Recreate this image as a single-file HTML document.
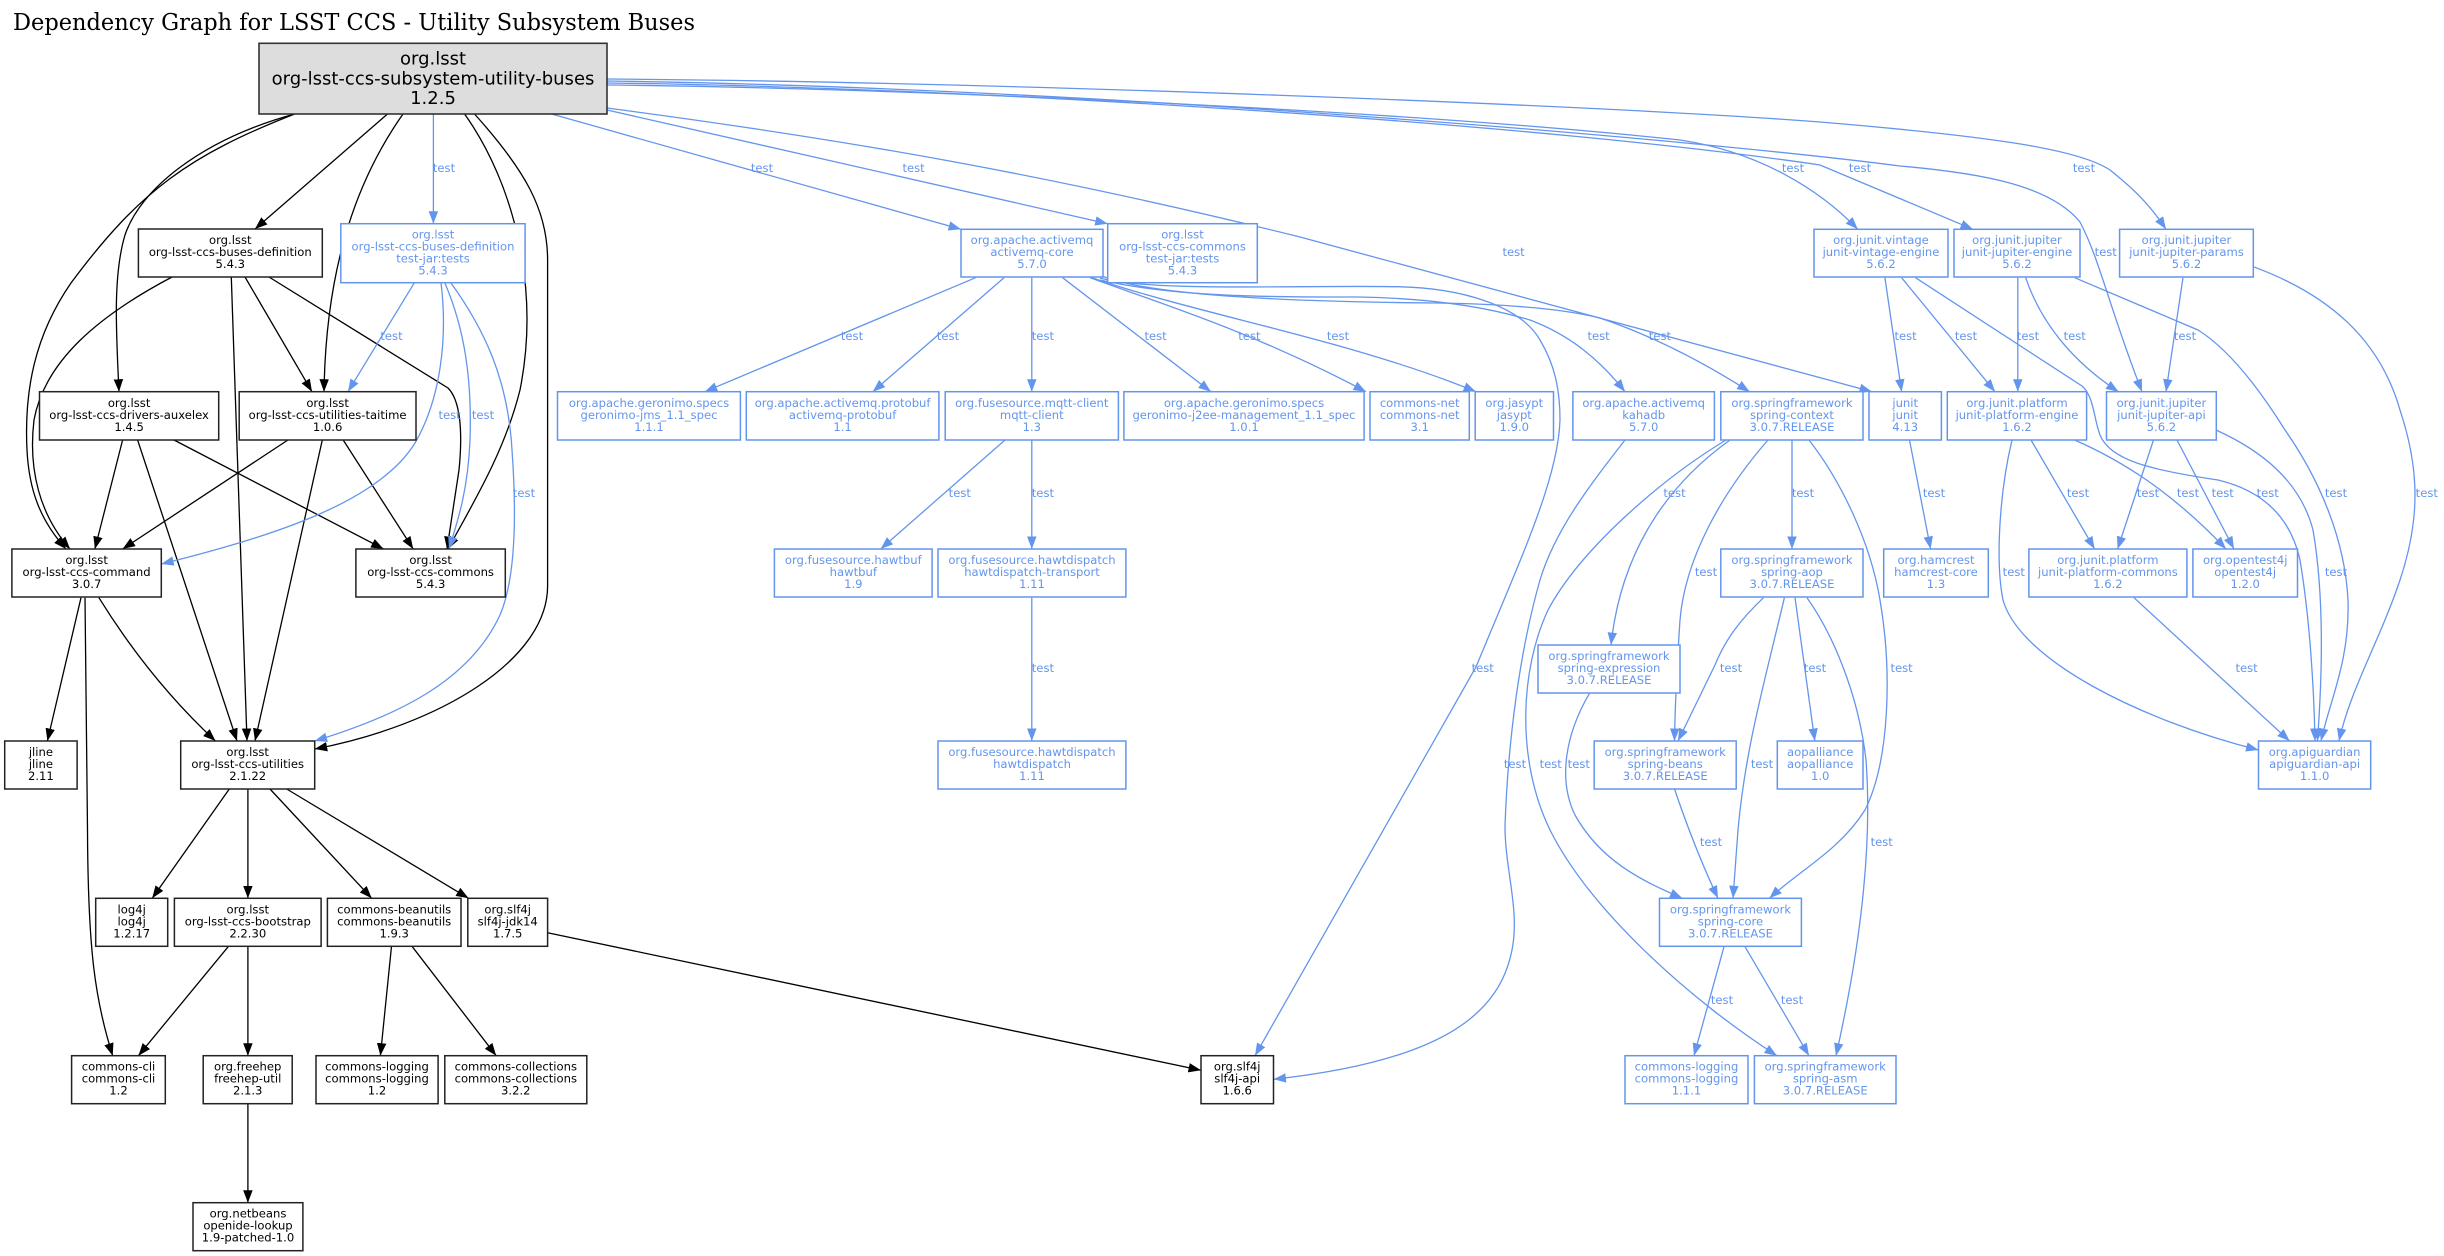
<!DOCTYPE html>
<html><head><meta charset="utf-8"><style>
html,body{margin:0;padding:0;background:#fff;}
svg{display:block;}
.k{fill:none;stroke:#000;stroke-width:1.3;marker-end:url(#ak);}
.b{fill:none;stroke:#6495ED;stroke-width:1.3;marker-end:url(#ab);}
.nk{fill:#fff;stroke:#222;stroke-width:1.5;}
.nb{fill:#fff;stroke:#6495ED;stroke-width:1.5;}
.t{font-family:"DejaVu Sans","Liberation Sans",sans-serif;font-size:11.6px;text-anchor:middle;}
.tk{fill:#000;}
.tb{fill:#6495ED;}
.lb{font-family:"DejaVu Sans","Liberation Sans",sans-serif;font-size:11.6px;text-anchor:middle;fill:#6495ED;}
</style></head><body>
<svg width="2444" height="1256" viewBox="0 0 2444 1256" xmlns="http://www.w3.org/2000/svg">
<defs>
<marker id="ak" markerWidth="13" markerHeight="10" refX="12.5" refY="4.75" orient="auto" markerUnits="userSpaceOnUse"><path d="M0,0 L12.5,4.75 L0,9.5 z" fill="#000"/></marker>
<marker id="ab" markerWidth="13" markerHeight="10" refX="12.5" refY="4.75" orient="auto" markerUnits="userSpaceOnUse"><path d="M0,0 L12.5,4.75 L0,9.5 z" fill="#6495ED"/></marker>
</defs>
<rect width="2444" height="1256" fill="#fff"/>
<text x="13" y="30" font-family="DejaVu Serif, Liberation Serif, serif" font-size="23" textLength="682" lengthAdjust="spacingAndGlyphs" fill="#000">Dependency Graph for LSST CCS - Utility Subsystem Buses</text>

<!-- black edges -->
<path class="k" d="M387.5,114 L255,229"/>
<path class="k" d="M294.6,114 C200,140 140,190 125,235 C113,275 116,330 119,391.7"/>
<path class="k" d="M294.6,114 C190,155 140,190 71,283 C35,335 24,390 27,450 C29,490 40,520 66,549"/>
<path class="k" d="M172,277 C100,315 45,360 34,420 C28,470 40,515 70,549"/>
<path class="k" d="M403,114 C360,175 326,260 324,391.7"/>
<path class="k" d="M464.6,114 C515,185 540,290 520,390 C505,450 475,500 448,549"/>
<path class="k" d="M474.5,114 C525,170 547.6,210 547.6,260 L547.6,586 C547.6,660 440,725 314.7,749"/>
<path class="k" d="M231.3,277 L247,741"/>
<path class="k" d="M245,277 L312,391.7"/>
<path class="k" d="M269,277 L448,388 C460,400 463,430 459,470 L447,549"/>
<path class="k" d="M122.6,440 L94.9,549"/>
<path class="k" d="M137.6,440 L237,741"/>
<path class="k" d="M174,440 L383.6,549"/>
<path class="k" d="M287.9,440 L122.6,549"/>
<path class="k" d="M322.3,440 L255,741"/>
<path class="k" d="M343.2,440 L413.2,549"/>
<path class="k" d="M81,597.7 L47.4,741"/>
<path class="k" d="M98.9,597.7 Q150,680 215.5,741"/>
<path class="k" d="M85,597.7 L87.5,830 C88,950 95,1000 112.7,1055.7"/>
<path class="k" d="M229.3,789 L152.2,898.3"/>
<path class="k" d="M247.9,789 L247.9,898.3"/>
<path class="k" d="M270,789 L371.7,898.3"/>
<path class="k" d="M286.7,789 L468.6,898.3"/>
<path class="k" d="M228.5,946.3 L138.4,1055.7"/>
<path class="k" d="M247.9,946.3 L247.9,1055.7"/>
<path class="k" d="M391.5,946.3 L380.4,1055.7"/>
<path class="k" d="M412,946.3 L496.2,1055.7"/>
<path class="k" d="M547.6,932.7 L1201,1070.3"/>
<path class="k" d="M247.9,1103.7 L247.9,1202.7"/>

<!-- blue edges -->
<path class="b" d="M433.4,114 L433.4,223.7"/>
<path class="b" d="M414.4,282.7 L348,391.7"/>
<path class="b" d="M441,282.7 C448,340 440,400 415,443 C380,500 280,535 161.3,564"/>
<path class="b" d="M444.8,282.7 C465,330 472,380 470,440 C468,490 458,520 449,549"/>
<path class="b" d="M450.8,282.7 C485,330 508,380 512,450 C517,520 515,580 500,615 C470,680 400,715 314.7,741"/>
<path class="b" d="M551.6,114 L961,229.3"/>
<path class="b" d="M607,110 L1107.7,223.7"/>
<path class="b" d="M607,108 C850,140 1050,175 1300,237 L1872,391.7"/>
<path class="b" d="M607,85 C900,88 1400,110 1680,140 C1760,152 1820,190 1857.8,229.3"/>
<path class="b" d="M607,83 C1000,88 1550,125 1820,165 L1973,229.3"/>
<path class="b" d="M607,81 C1100,88 1700,140 1900,166 C1980,173 2050,185 2080,222 C2100,260 2110,310 2142,391.7"/>
<path class="b" d="M607,79 C1000,82 1600,105 1820,122 C2000,137 2080,150 2110,170 C2135,190 2150,205 2166,229.3"/>
<path class="b" d="M975.6,277.7 L704.8,391.7"/>
<path class="b" d="M1004,277.7 L872.8,391.7"/>
<path class="b" d="M1031.8,277.7 L1031.8,391.7"/>
<path class="b" d="M1062.6,277.7 L1210.9,391.7"/>
<path class="b" d="M1090,277.7 C1150,300 1250,330 1366,391.7"/>
<path class="b" d="M1092,277.7 C1200,315 1350,340 1476,391.7"/>
<path class="b" d="M1100,278 C1150,292 1300,285 1397.7,286.7 C1460,288 1520,305 1540,340 C1555,365 1560,390 1560,420 C1558,480 1520,560 1476,667 L1255,1055.7"/>
<path class="b" d="M1100,280 C1180,298 1280,297 1358,297 C1420,298 1480,305 1530,320 C1570,335 1600,360 1625,391.7"/>
<path class="b" d="M1102,276 C1150,296 1300,302 1437,303 C1500,304 1560,308 1600,318 C1650,335 1700,360 1749.6,391.7"/>
<path class="b" d="M1005,440 L880.7,549"/>
<path class="b" d="M1031.8,440 L1031.8,549"/>
<path class="b" d="M1031.8,597.7 L1031.8,741"/>
<path class="b" d="M1625,440 C1590,485 1555,530 1540,580 C1520,650 1508,740 1505,826 C1505,870 1520,910 1512,950 C1500,1010 1450,1060 1273.5,1079.3"/>
<path class="b" d="M1730,440 C1660,490 1620,560 1611,645"/>
<path class="b" d="M1768,440 C1720,495 1685,560 1680,620 C1676,680 1675,710 1674.5,741"/>
<path class="b" d="M1792,440 L1792,549"/>
<path class="b" d="M1809,440 C1840,480 1870,540 1880,600 C1892,670 1890,760 1865,810 C1840,850 1800,870 1769.4,898.3"/>
<path class="b" d="M1726,440 C1660,480 1580,550 1548,610 C1520,670 1516,760 1550,830 C1590,910 1690,1000 1777,1055.7"/>
<path class="b" d="M1589.5,693.3 C1565,735 1558,780 1575,815 C1600,860 1640,880 1682.4,898.3"/>
<path class="b" d="M1763.5,597.7 C1740,620 1725,640 1715,665 L1678,741"/>
<path class="b" d="M1784.4,597.7 C1765,680 1745,750 1738,830 L1733,898.3"/>
<path class="b" d="M1795,597.7 L1814.8,741"/>
<path class="b" d="M1807,597.7 C1830,630 1858,690 1866,760 C1872,840 1862,940 1836,1055.7"/>
<path class="b" d="M1674.5,789 C1685,820 1700,860 1718,898.3"/>
<path class="b" d="M1724,946.7 L1694,1055.7"/>
<path class="b" d="M1745,946.7 L1809,1055.7"/>
<path class="b" d="M1884.9,277.7 L1901.6,391.7"/>
<path class="b" d="M1901.6,277.7 L1995,391.7"/>
<path class="b" d="M1915.5,277.7 L2082,386 C2094,396 2094,420 2100,435 C2110,460 2150,470 2218,480 C2260,490 2290,515 2300,560 C2310,620 2314,690 2315,741"/>
<path class="b" d="M2017.8,277.7 L2017.8,391.7"/>
<path class="b" d="M2025.7,277.7 C2040,320 2070,360 2118.5,391.7"/>
<path class="b" d="M2074.7,277.7 L2198,330 C2230,350 2260,390 2285,430 C2320,480 2345,540 2348,600 C2350,660 2330,700 2321,741"/>
<path class="b" d="M2183,277.7 L2166,391.7"/>
<path class="b" d="M2253.3,266.7 C2330,295 2380,340 2400,410 C2420,470 2420,520 2400,580 C2380,640 2350,690 2339,741"/>
<path class="b" d="M2216,430 C2260,450 2300,480 2313,530 C2325,600 2322,680 2317.4,741"/>
<path class="b" d="M2153.5,440 L2117.6,549"/>
<path class="b" d="M2177,440 L2234,549"/>
<path class="b" d="M2031,440 L2094.6,549"/>
<path class="b" d="M2074.7,440 C2120,460 2170,490 2226,549"/>
<path class="b" d="M2012,440 C2000,490 1995,560 2003,600 C2020,660 2140,720 2258.5,750"/>
<path class="b" d="M2134,597.7 L2289.6,741"/>
<path class="b" d="M1909.5,440 L1930.6,549"/>

<!-- edge labels -->
<g class="lb">
<text x="444" y="172">test</text>
<text x="391.5" y="340">test</text>
<text x="449.6" y="419">test</text>
<text x="483" y="419">test</text>
<text x="524" y="497">test</text>
<text x="762" y="172">test</text>
<text x="913.6" y="172">test</text>
<text x="1513.6" y="256">test</text>
<text x="1793" y="172">test</text>
<text x="1860" y="172">test</text>
<text x="2105.7" y="256">test</text>
<text x="2084" y="172">test</text>
<text x="852" y="340">test</text>
<text x="948" y="340">test</text>
<text x="1042.9" y="340">test</text>
<text x="1155.6" y="340">test</text>
<text x="1249.4" y="340">test</text>
<text x="1338" y="340">test</text>
<text x="1482.7" y="672">test</text>
<text x="1598.6" y="340">test</text>
<text x="1659.9" y="340">test</text>
<text x="959.8" y="497">test</text>
<text x="1042.9" y="497">test</text>
<text x="1042.9" y="672">test</text>
<text x="1515" y="768">test</text>
<text x="1674.5" y="497">test</text>
<text x="1706" y="576">test</text>
<text x="1803" y="497">test</text>
<text x="1901.6" y="672">test</text>
<text x="1550.7" y="768">test</text>
<text x="1578.8" y="768">test</text>
<text x="1731" y="672">test</text>
<text x="1762" y="768">test</text>
<text x="1815" y="672">test</text>
<text x="1881.7" y="846">test</text>
<text x="1711" y="846">test</text>
<text x="1722" y="1004">test</text>
<text x="1792" y="1004">test</text>
<text x="1905.6" y="340">test</text>
<text x="1966" y="340">test</text>
<text x="2267.7" y="497">test</text>
<text x="2028" y="340">test</text>
<text x="2074.7" y="340">test</text>
<text x="2336" y="497">test</text>
<text x="2185" y="340">test</text>
<text x="2426.8" y="497">test</text>
<text x="2336" y="576">test</text>
<text x="2148" y="497">test</text>
<text x="2222.7" y="497">test</text>
<text x="2078" y="497">test</text>
<text x="2188" y="497">test</text>
<text x="2013.8" y="576">test</text>
<text x="2246.6" y="672">test</text>
<text x="1934" y="497">test</text>
</g>

<!-- root node -->
<rect x="259" y="43.3" width="348" height="70.7" fill="#dddddd" stroke="#333" stroke-width="1.6"/>
<g font-family="DejaVu Sans, Liberation Sans, sans-serif" font-size="18" text-anchor="middle" fill="#000">
<text x="433" y="64.5">org.lsst</text>
<text x="433" y="84.3">org-lsst-ccs-subsystem-utility-buses</text>
<text x="433" y="104">1.2.5</text>
</g>

<!-- black nodes -->
<g>
<rect class="nk" x="138.4" y="229" width="183.9" height="48"/>
<rect class="nk" x="39.5" y="391.7" width="179.2" height="48.3"/>
<rect class="nk" x="239.2" y="391.7" width="176.8" height="48.3"/>
<rect class="nk" x="11.9" y="549" width="149.4" height="48"/>
<rect class="nk" x="355.9" y="549" width="149.4" height="48"/>
<rect class="nk" x="4.7" y="741" width="72.4" height="48"/>
<rect class="nk" x="180.7" y="741" width="134" height="48"/>
<rect class="nk" x="95.7" y="898.3" width="72" height="48"/>
<rect class="nk" x="174.4" y="898.3" width="146.7" height="48"/>
<rect class="nk" x="327.4" y="898.3" width="133.6" height="48"/>
<rect class="nk" x="467.8" y="898.3" width="79.8" height="48"/>
<rect class="nk" x="71.6" y="1055.7" width="93.7" height="48"/>
<rect class="nk" x="203.2" y="1055.7" width="89" height="48"/>
<rect class="nk" x="316" y="1055.7" width="122.1" height="48"/>
<rect class="nk" x="444.8" y="1055.7" width="142" height="48"/>
<rect class="nk" x="1201" y="1055.7" width="72.5" height="48"/>
<rect class="nk" x="193" y="1202.7" width="109.9" height="48"/>
</g>
<g class="t tk">
<text x="230.3" y="244">org.lsst</text><text x="230.3" y="256">org-lsst-ccs-buses-definition</text><text x="230.3" y="268">5.4.3</text>
<text x="129.1" y="406.8">org.lsst</text><text x="129.1" y="418.8">org-lsst-ccs-drivers-auxelex</text><text x="129.1" y="430.8">1.4.5</text>
<text x="327.6" y="406.8">org.lsst</text><text x="327.6" y="418.8">org-lsst-ccs-utilities-taitime</text><text x="327.6" y="430.8">1.0.6</text>
<text x="86.6" y="564">org.lsst</text><text x="86.6" y="576">org-lsst-ccs-command</text><text x="86.6" y="588">3.0.7</text>
<text x="430.6" y="564">org.lsst</text><text x="430.6" y="576">org-lsst-ccs-commons</text><text x="430.6" y="588">5.4.3</text>
<text x="40.9" y="756">jline</text><text x="40.9" y="768">jline</text><text x="40.9" y="780">2.11</text>
<text x="247.7" y="756">org.lsst</text><text x="247.7" y="768">org-lsst-ccs-utilities</text><text x="247.7" y="780">2.1.22</text>
<text x="131.7" y="913.3">log4j</text><text x="131.7" y="925.3">log4j</text><text x="131.7" y="937.3">1.2.17</text>
<text x="247.8" y="913.3">org.lsst</text><text x="247.8" y="925.3">org-lsst-ccs-bootstrap</text><text x="247.8" y="937.3">2.2.30</text>
<text x="394.2" y="913.3">commons-beanutils</text><text x="394.2" y="925.3">commons-beanutils</text><text x="394.2" y="937.3">1.9.3</text>
<text x="507.7" y="913.3">org.slf4j</text><text x="507.7" y="925.3">slf4j-jdk14</text><text x="507.7" y="937.3">1.7.5</text>
<text x="118.5" y="1070.7">commons-cli</text><text x="118.5" y="1082.7">commons-cli</text><text x="118.5" y="1094.7">1.2</text>
<text x="247.7" y="1070.7">org.freehep</text><text x="247.7" y="1082.7">freehep-util</text><text x="247.7" y="1094.7">2.1.3</text>
<text x="377" y="1070.7">commons-logging</text><text x="377" y="1082.7">commons-logging</text><text x="377" y="1094.7">1.2</text>
<text x="515.8" y="1070.7">commons-collections</text><text x="515.8" y="1082.7">commons-collections</text><text x="515.8" y="1094.7">3.2.2</text>
<text x="1237.2" y="1070.7">org.slf4j</text><text x="1237.2" y="1082.7">slf4j-api</text><text x="1237.2" y="1094.7">1.6.6</text>
<text x="248" y="1217.7">org.netbeans</text><text x="248" y="1229.7">openide-lookup</text><text x="248" y="1241.7">1.9-patched-1.0</text>
</g>

<!-- blue nodes -->
<g>
<rect class="nb" x="340.8" y="223.7" width="184.3" height="59"/>
<rect class="nb" x="961" y="229.3" width="142" height="47.7"/>
<rect class="nb" x="1107.7" y="223.7" width="149.6" height="59"/>
<rect class="nb" x="1814" y="229.3" width="134" height="47.7"/>
<rect class="nb" x="1954" y="229.3" width="126" height="47.7"/>
<rect class="nb" x="2119.6" y="229.3" width="133.7" height="47.7"/>
<rect class="nb" x="557.5" y="391.7" width="182.9" height="48.3"/>
<rect class="nb" x="746.3" y="391.7" width="192.6" height="48.3"/>
<rect class="nb" x="945.2" y="391.7" width="173.2" height="48.3"/>
<rect class="nb" x="1123.9" y="391.7" width="240.2" height="48.3"/>
<rect class="nb" x="1370" y="391.7" width="99.3" height="48.3"/>
<rect class="nb" x="1475.2" y="391.7" width="78.3" height="48.3"/>
<rect class="nb" x="1572.9" y="391.7" width="141.5" height="48.3"/>
<rect class="nb" x="1720.8" y="391.7" width="142.2" height="48.3"/>
<rect class="nb" x="1869" y="391.7" width="72.4" height="48.3"/>
<rect class="nb" x="1947.3" y="391.7" width="139.3" height="48.3"/>
<rect class="nb" x="2106.5" y="391.7" width="109.8" height="48.3"/>
<rect class="nb" x="774.4" y="549" width="157.7" height="48"/>
<rect class="nb" x="938" y="549" width="187.9" height="48"/>
<rect class="nb" x="1720.8" y="549" width="142.2" height="48"/>
<rect class="nb" x="1883.7" y="549" width="104.6" height="48"/>
<rect class="nb" x="2028.9" y="549" width="158" height="48"/>
<rect class="nb" x="2192.9" y="549" width="104.6" height="48"/>
<rect class="nb" x="1538" y="645" width="142" height="48"/>
<rect class="nb" x="938" y="741" width="187.9" height="48"/>
<rect class="nb" x="1594.2" y="741" width="142" height="48"/>
<rect class="nb" x="1777.3" y="741" width="85.7" height="48"/>
<rect class="nb" x="2258.5" y="741" width="112.2" height="48"/>
<rect class="nb" x="1659.5" y="898.3" width="141.9" height="48"/>
<rect class="nb" x="1625" y="1055.7" width="123" height="48"/>
<rect class="nb" x="1754.4" y="1055.7" width="141.6" height="48"/>
</g>
<g class="t tb">
<text x="433" y="238.5">org.lsst</text><text x="433" y="250.5">org-lsst-ccs-buses-definition</text><text x="433" y="262.5">test-jar:tests</text><text x="433" y="274.5">5.4.3</text>
<text x="1032" y="244">org.apache.activemq</text><text x="1032" y="256">activemq-core</text><text x="1032" y="268">5.7.0</text>
<text x="1182.5" y="238.5">org.lsst</text><text x="1182.5" y="250.5">org-lsst-ccs-commons</text><text x="1182.5" y="262.5">test-jar:tests</text><text x="1182.5" y="274.5">5.4.3</text>
<text x="1881" y="244">org.junit.vintage</text><text x="1881" y="256">junit-vintage-engine</text><text x="1881" y="268">5.6.2</text>
<text x="2017" y="244">org.junit.jupiter</text><text x="2017" y="256">junit-jupiter-engine</text><text x="2017" y="268">5.6.2</text>
<text x="2186.5" y="244">org.junit.jupiter</text><text x="2186.5" y="256">junit-jupiter-params</text><text x="2186.5" y="268">5.6.2</text>
<text x="649" y="406.8">org.apache.geronimo.specs</text><text x="649" y="418.8">geronimo-jms_1.1_spec</text><text x="649" y="430.8">1.1.1</text>
<text x="842.6" y="406.8">org.apache.activemq.protobuf</text><text x="842.6" y="418.8">activemq-protobuf</text><text x="842.6" y="430.8">1.1</text>
<text x="1031.8" y="406.8">org.fusesource.mqtt-client</text><text x="1031.8" y="418.8">mqtt-client</text><text x="1031.8" y="430.8">1.3</text>
<text x="1244" y="406.8">org.apache.geronimo.specs</text><text x="1244" y="418.8">geronimo-j2ee-management_1.1_spec</text><text x="1244" y="430.8">1.0.1</text>
<text x="1419.7" y="406.8">commons-net</text><text x="1419.7" y="418.8">commons-net</text><text x="1419.7" y="430.8">3.1</text>
<text x="1514.3" y="406.8">org.jasypt</text><text x="1514.3" y="418.8">jasypt</text><text x="1514.3" y="430.8">1.9.0</text>
<text x="1643.7" y="406.8">org.apache.activemq</text><text x="1643.7" y="418.8">kahadb</text><text x="1643.7" y="430.8">5.7.0</text>
<text x="1792" y="406.8">org.springframework</text><text x="1792" y="418.8">spring-context</text><text x="1792" y="430.8">3.0.7.RELEASE</text>
<text x="1905.2" y="406.8">junit</text><text x="1905.2" y="418.8">junit</text><text x="1905.2" y="430.8">4.13</text>
<text x="2017" y="406.8">org.junit.platform</text><text x="2017" y="418.8">junit-platform-engine</text><text x="2017" y="430.8">1.6.2</text>
<text x="2161.4" y="406.8">org.junit.jupiter</text><text x="2161.4" y="418.8">junit-jupiter-api</text><text x="2161.4" y="430.8">5.6.2</text>
<text x="853.3" y="564">org.fusesource.hawtbuf</text><text x="853.3" y="576">hawtbuf</text><text x="853.3" y="588">1.9</text>
<text x="1032" y="564">org.fusesource.hawtdispatch</text><text x="1032" y="576">hawtdispatch-transport</text><text x="1032" y="588">1.11</text>
<text x="1792" y="564">org.springframework</text><text x="1792" y="576">spring-aop</text><text x="1792" y="588">3.0.7.RELEASE</text>
<text x="1936" y="564">org.hamcrest</text><text x="1936" y="576">hamcrest-core</text><text x="1936" y="588">1.3</text>
<text x="2107.9" y="564">org.junit.platform</text><text x="2107.9" y="576">junit-platform-commons</text><text x="2107.9" y="588">1.6.2</text>
<text x="2245.2" y="564">org.opentest4j</text><text x="2245.2" y="576">opentest4j</text><text x="2245.2" y="588">1.2.0</text>
<text x="1609" y="660">org.springframework</text><text x="1609" y="672">spring-expression</text><text x="1609" y="684">3.0.7.RELEASE</text>
<text x="1032" y="756">org.fusesource.hawtdispatch</text><text x="1032" y="768">hawtdispatch</text><text x="1032" y="780">1.11</text>
<text x="1665.2" y="756">org.springframework</text><text x="1665.2" y="768">spring-beans</text><text x="1665.2" y="780">3.0.7.RELEASE</text>
<text x="1820.2" y="756">aopalliance</text><text x="1820.2" y="768">aopalliance</text><text x="1820.2" y="780">1.0</text>
<text x="2314.6" y="756">org.apiguardian</text><text x="2314.6" y="768">apiguardian-api</text><text x="2314.6" y="780">1.1.0</text>
<text x="1730.5" y="913.3">org.springframework</text><text x="1730.5" y="925.3">spring-core</text><text x="1730.5" y="937.3">3.0.7.RELEASE</text>
<text x="1686.5" y="1070.7">commons-logging</text><text x="1686.5" y="1082.7">commons-logging</text><text x="1686.5" y="1094.7">1.1.1</text>
<text x="1825.2" y="1070.7">org.springframework</text><text x="1825.2" y="1082.7">spring-asm</text><text x="1825.2" y="1094.7">3.0.7.RELEASE</text>
</g>
</svg>
</body></html>
